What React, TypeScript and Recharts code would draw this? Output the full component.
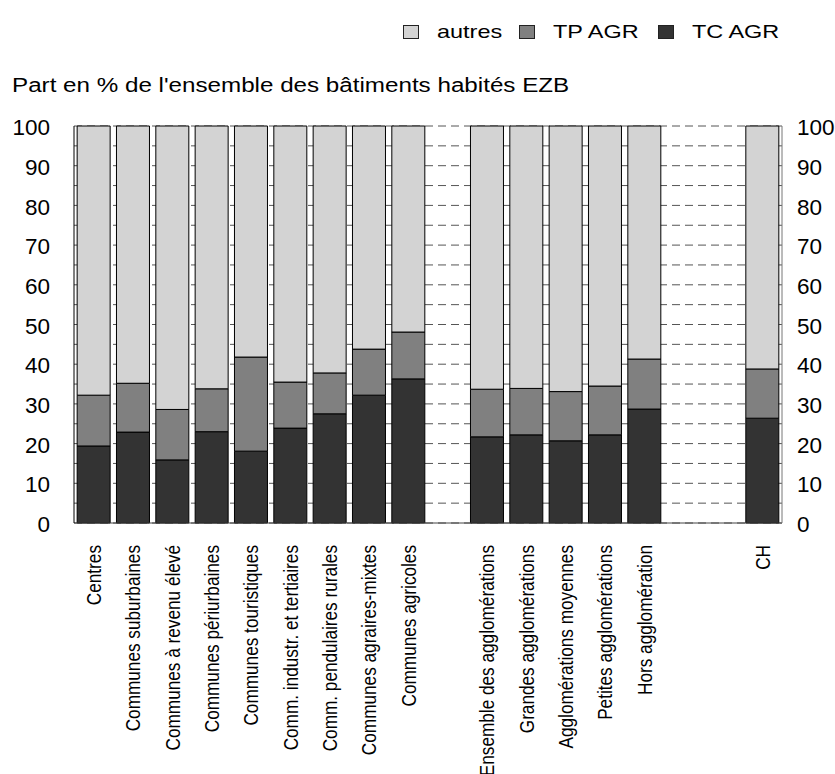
import { ComposedChart, Bar, Line, XAxis, YAxis, CartesianGrid } from 'recharts';

// Categories (blank names are the empty separator columns)
const CATEGORIES = [
  'Centres',
  'Communes suburbaines',
  'Communes à revenu élevé',
  'Communes périurbaines',
  'Communes touristiques',
  'Comm. industr. et tertiaires',
  'Comm. pendulaires rurales',
  'Communes agraires-mixtes',
  'Communes agricoles',
  '',
  'Ensemble des agglomérations',
  'Grandes agglomérations',
  'Agglomérations moyennes',
  'Petites agglomérations',
  'Hors agglomération',
  '',
  '',
  'CH',
];

// Share in % (TC AGR bottom segment, TP AGR middle segment)
const TC_AGR = [19.4, 22.9, 15.9, 23.0, 18.1, 23.9, 27.5, 32.2, 36.3, null, 21.7, 22.2, 20.7, 22.2, 28.7, null, null, 26.4];
const TP_AGR = [12.8, 12.3, 12.7, 10.8, 23.7, 11.6, 10.3, 11.6, 11.8, null, 12.0, 11.7, 12.4, 12.3, 12.6, null, null, 12.4];

// grid lines every 5, labels only every 10
const GRID_TICKS = [0, 5, 10, 15, 20, 25, 30, 35, 40, 45, 50, 55, 60, 65, 70, 75, 80, 85, 90, 95, 100];

const TITLE = "Part en % de l'ensemble des bâtiments habités EZB";

const SERIES = [
  { key: 'tc', name: 'TC AGR', color: '#333333' },
  { key: 'tp', name: 'TP AGR', color: '#808080' },
  { key: 'autres', name: 'autres', color: '#d3d3d3' },
];

const FONT = '"Liberation Sans", Arial, sans-serif';

const data = CATEGORIES.map((name, i) => {
  const tc = TC_AGR[i];
  const tp = TP_AGR[i];
  return {
    name,
    tc,
    tp,
    autres: tc == null || tp == null ? null : Math.round((100 - tc - tp) * 10) / 10,
  };
});

function CategoryTick({ x, y, payload }: any) {
  return (
    <g transform={`translate(${x},${y + 22}) scale(1.2,1)`}>
      <text
        transform="rotate(-90)"
        textAnchor="end"
        dy="0.36em"
        fontSize={17.2}
        fontFamily={FONT}
        fill="#000"
      >
        {payload.value}
      </text>
    </g>
  );
}

function ValueTick({ x, y, payload, anchor }: any) {
  if (payload.value % 10 !== 0) return <g />;
  return (
    <text
      x={x}
      y={y + 1}
      dy="0.36em"
      textAnchor={anchor}
      fontSize={22.5}
      fontFamily={FONT}
      fill="#000"
    >
      {payload.value}
    </text>
  );
}

function Overlay() {
  const legendX = [403, 519, 658];
  const items = [...SERIES].reverse();
  return (
    <svg
      width={835}
      height={110}
      style={{ position: 'absolute', left: 0, top: 0, pointerEvents: 'none' }}
    >
      {items.map((s, i) => (
        <g key={s.key} transform={`translate(${legendX[i]},0)`}>
          <rect x={0.5} y={25.5} width={15} height={13} fill={s.color} stroke="#222" />
          <g transform="translate(34,38) scale(1.34,1)">
            <text fontSize={17.5} fontFamily={FONT} fill="#000">
              {s.name}
            </text>
          </g>
        </g>
      ))}
      <g transform="translate(12,92) scale(1.21,1)">
        <text fontSize={20} fontFamily={FONT} fill="#000">
          {TITLE}
        </text>
      </g>
    </svg>
  );
}

export default function App() {
  return (
    <div style={{ position: 'absolute', left: 0, top: 0, width: 835, height: 774, background: '#fff' }}>
      <ComposedChart
        width={835}
        height={774}
        data={data}
        margin={{ top: 126, right: 0, bottom: 0, left: 0 }}
        barCategoryGap="8%"
      >
        <CartesianGrid
          yAxisId="left"
          vertical={false}
          stroke="#555"
          strokeDasharray="8 5"
        />
        <XAxis
          dataKey="name"
          interval={0}
          tickLine={false}
          tickSize={0}
          tickMargin={0}
          height={251}
          axisLine={{ stroke: '#444' }}
          tick={<CategoryTick />}
        />
        <YAxis
          yAxisId="left"
          domain={[0, 100]}
          ticks={GRID_TICKS}
          interval={0}
          width={74}
          tickLine={false}
          tickSize={0}
          tickMargin={24}
          axisLine={{ stroke: '#000' }}
          tick={<ValueTick anchor="end" />}
        />
        <YAxis
          yAxisId="right"
          orientation="right"
          domain={[0, 100]}
          ticks={GRID_TICKS}
          interval={0}
          width={53}
          tickLine={false}
          tickSize={0}
          tickMargin={15}
          axisLine={{ stroke: '#777' }}
          tick={<ValueTick anchor="start" />}
        />
        {SERIES.map((s) => (
          <Bar
            key={s.key}
            yAxisId="left"
            dataKey={s.key}
            name={s.name}
            stackId="a"
            fill={s.color}
            stroke="#000"
            strokeWidth={1}
            isAnimationActive={false}
          />
        ))}
        {/* invisible series so the right-hand axis gets a domain */}
        <Line
          yAxisId="right"
          dataKey="tc"
          stroke="none"
          dot={false}
          activeDot={false}
          legendType="none"
          isAnimationActive={false}
        />
      </ComposedChart>
      <Overlay />
    </div>
  );
}
